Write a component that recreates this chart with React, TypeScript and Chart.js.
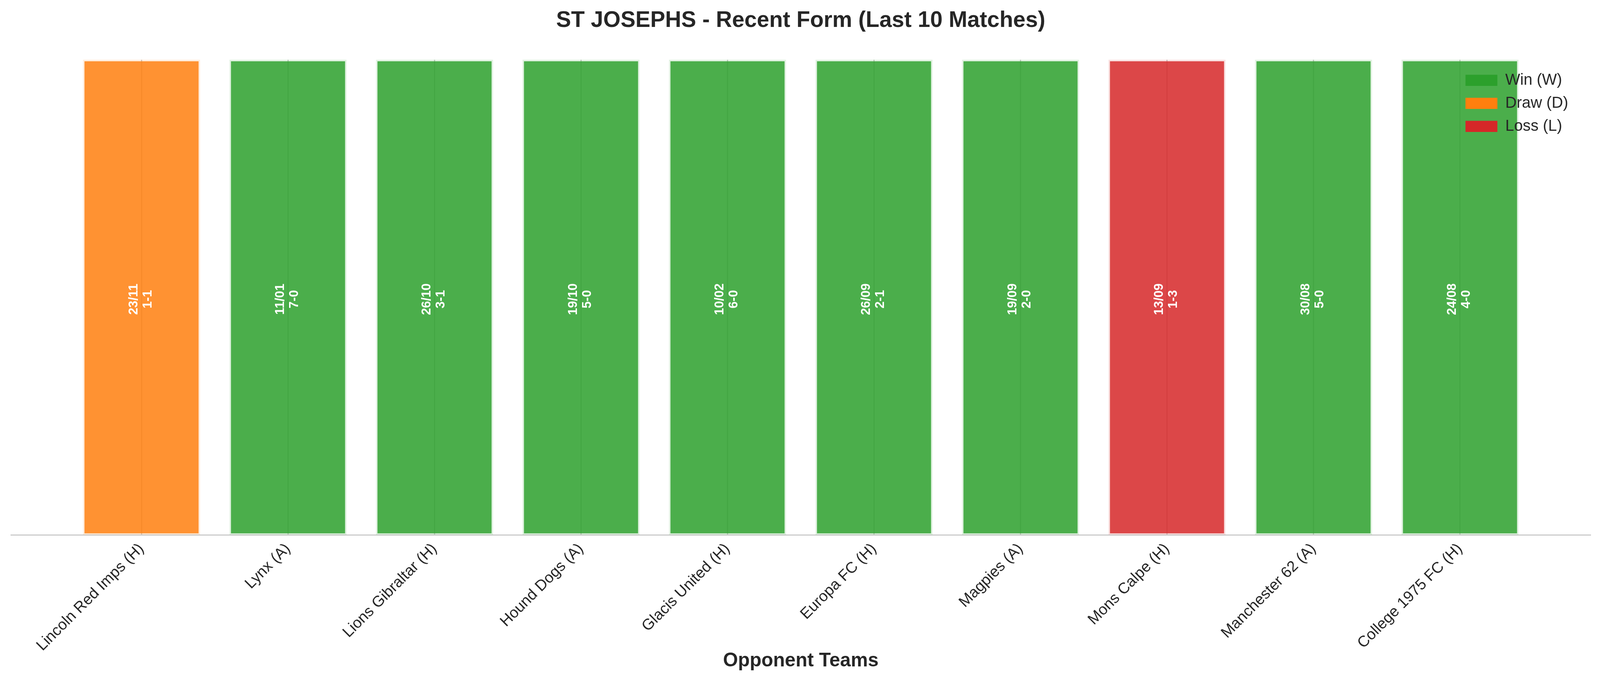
import { useEffect, useRef } from 'react'
import { Chart, registerables } from 'chart.js'

Chart.register(...registerables)

const opponents = [
  'Lincoln Red Imps (H)',
  'Lynx (A)',
  'Lions Gibraltar (H)',
  'Hound Dogs (A)',
  'Glacis United (H)',
  'Europa FC (H)',
  'Magpies (A)',
  'Mons Calpe (H)',
  'Manchester 62 (A)',
  'College 1975 FC (H)',
]
const matchDates = ['23/11', '11/01', '26/10', '19/10', '10/02', '26/09', '19/09', '13/09', '30/08', '24/08']
const scores = ['1-1', '7-0', '3-1', '5-0', '6-0', '2-1', '2-0', '1-3', '5-0', '4-0']
const results = ['D', 'W', 'W', 'W', 'W', 'W', 'W', 'L', 'W', 'W']
const barHeights = [1, 1, 1, 1, 1, 1, 1, 1, 1, 1]

const resultNames: Record<string, string> = { W: 'Win (W)', D: 'Draw (D)', L: 'Loss (L)' }
const resultRgb: Record<string, string> = { W: '44,160,44', D: '255,127,14', L: '214,39,40' }

// reference size; everything below is laid out relative to it
const W = 4163
const H = 1770
const FONT = '"Liberation Sans", Arial, sans-serif'
const TEXT = '#262626'

export default function App() {
  const canvasRef = useRef<HTMLCanvasElement | null>(null)

  useEffect(() => {
    document.body.style.margin = '0'
    document.body.style.overflow = 'hidden'
    const w = window.innerWidth || W
    const s = w / W
    const h = Math.round(H * s)

    // white date/score text inside every bar
    const barTextPlugin = {
      id: 'barText',
      afterDatasetsDraw(chart: any) {
        const { ctx } = chart
        const yMid = chart.scales.y.getPixelForValue(0.5)
        chart.getDatasetMeta(0).data.forEach((bar: any, i: number) => {
          ctx.save()
          ctx.translate(bar.x, yMid + 5 * s)
          ctx.rotate(-Math.PI / 2)
          ctx.font = `bold ${33 * s}px ${FONT}`
          ctx.fillStyle = '#ffffff'
          ctx.textAlign = 'center'
          ctx.textBaseline = 'middle'
          ctx.fillText(matchDates[i], 0, -20 * s)
          ctx.fillText(scores[i], 0, 17 * s)
          ctx.restore()
        })
      },
    }

    // legend sits inside the plot, top right, drawn above the bars
    const legendPlacePlugin = {
      id: 'legendPlace',
      beforeLayout(chart: any) {
        const lg = chart.legend
        if (lg) lg._layers = () => [{ z: 1, draw: (area: any) => lg.draw(area) }]
      },
      afterLayout(chart: any) {
        const lg = chart.legend
        if (!lg) return
        const lw = lg.width
        const lh = lg.height
        lg.left = chart.chartArea.right - 344 * s
        lg.right = lg.left + lw
        lg.top = chart.chartArea.top + 14 * s
        lg.bottom = lg.top + lh
      },
    }

    let chart: Chart | null = null
    const canvas = canvasRef.current
    if (canvas) {
      canvas.width = w
      canvas.height = h
      canvas.style.width = `${w}px`
      canvas.style.height = `${h}px`
      chart = new Chart(canvas, {
        type: 'bar',
        data: {
          datasets: [
            {
              data: barHeights.map((v, i) => ({ x: i, y: v })),
              backgroundColor: results.map((r) => `rgba(${resultRgb[r]},0.85)`),
              borderColor: results.map((r) => `rgba(${resultRgb[r]},0.14)`),
              borderWidth: 4 * s,
              borderSkipped: false,
              categoryPercentage: 0.8,
              barPercentage: 1,
            },
          ],
        },
        options: {
          animation: false,
          responsive: false,
          devicePixelRatio: 1,
          layout: { padding: { left: 29 * s, right: 25 * s, top: 0, bottom: 0 } },
          plugins: {
            title: {
              display: true,
              text: 'ST JOSEPHS - Recent Form (Last 10 Matches)',
              color: TEXT,
              font: { family: FONT, size: 58 * s, weight: 'bold' },
              padding: { top: 19 * s, bottom: 67 * s },
            },
            legend: {
              display: true,
              position: 'chartArea',
              align: 'start',
              labels: {
                color: TEXT,
                font: { family: FONT, size: 41 * s },
                boxWidth: 83 * s,
                boxHeight: 29 * s,
                padding: 19 * s,
                generateLabels: () =>
                  ['W', 'D', 'L'].map((r) => ({
                    text: resultNames[r],
                    fillStyle: `rgb(${resultRgb[r]})`,
                    strokeStyle: `rgb(${resultRgb[r]})`,
                    lineWidth: 0,
                    hidden: false,
                    fontColor: TEXT,
                  })),
              },
            },
            tooltip: { enabled: false },
          },
          scales: {
            x: {
              type: 'linear',
              min: -0.89,
              max: 9.89,
              offset: false,
              afterBuildTicks: (axis: any) => {
                axis.ticks = opponents.map((_, i) => ({ value: i }))
              },
              afterFit: (scale: any) => {
                scale.height = (H - 1392) * s
              },
              ticks: {
                autoSkip: false,
                minRotation: 45,
                maxRotation: 45,
                padding: 13 * s,
                color: TEXT,
                font: { family: FONT, size: 40 * s },
                callback: (v: any) => opponents[v as number] ?? '',
              },
              grid: {
                display: true,
                offset: false,
                color: '#cccccc',
                lineWidth: 3 * s,
                drawTicks: false,
              },
              border: { display: true, color: '#cccccc', width: 3 * s },
              title: {
                display: true,
                text: 'Opponent Teams',
                color: TEXT,
                font: { family: FONT, size: 50 * s, weight: 'bold' },
                padding: { top: 0, bottom: 19 * s },
              },
            },
            y: {
              min: 0,
              max: 1,
              display: false,
            },
          },
        },
        plugins: [barTextPlugin, legendPlacePlugin],
      } as any)
    }
    return () => {
      if (chart) chart.destroy()
    }
  }, [])

  return (
    <div style={{ position: 'fixed', left: 0, top: 0, right: 0, bottom: 0, overflow: 'hidden', background: '#ffffff' }}>
      <canvas ref={canvasRef} style={{ display: 'block' }} />
    </div>
  )
}
